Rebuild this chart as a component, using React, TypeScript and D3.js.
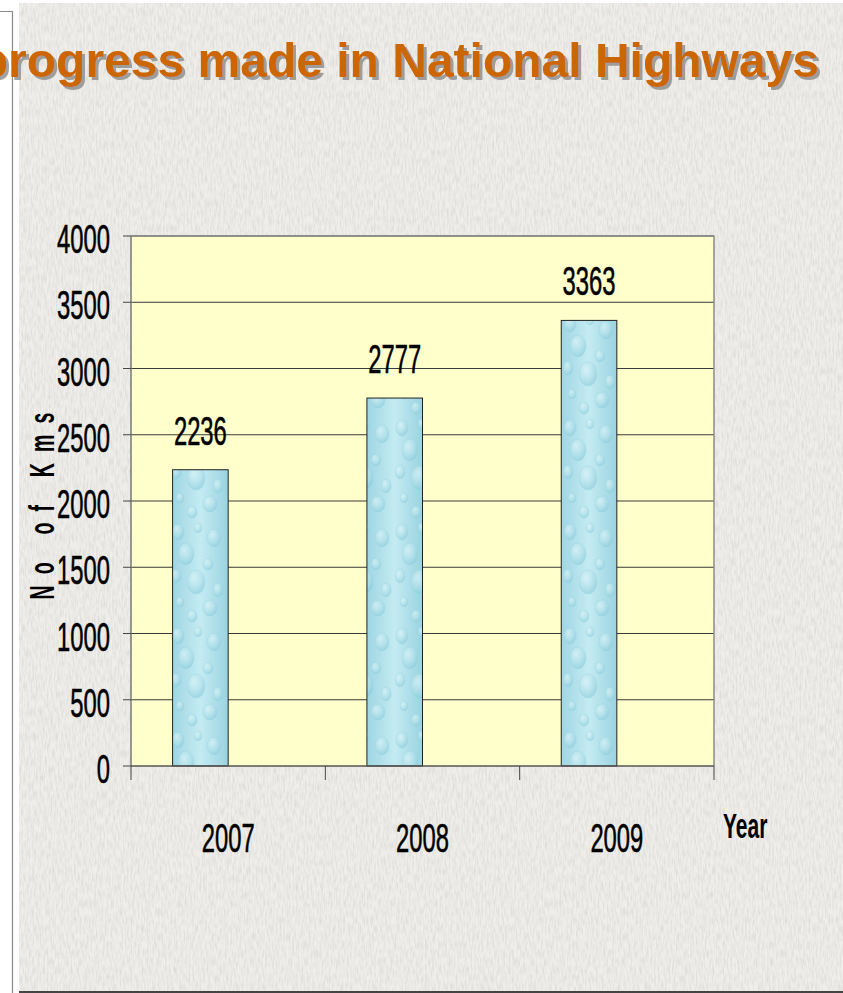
import React from "react";
import { scaleBand, scaleLinear } from "d3";

const years = ["2007", "2008", "2009"];
const kms = [2236, 2777, 3363];
const yTicks = [0, 500, 1000, 1500, 2000, 2500, 3000, 3500, 4000];
const title = "progress made in National Highways";

const W = 843;
const H = 993;
const plot = { left: 131, right: 714, top: 236, bottom: 766 };

// little water drops used to fill the bars
const drops = [
  [10, 12, 6, 8], [30, 8, 4, 5], [46, 18, 7, 9], [18, 34, 8, 11],
  [40, 44, 5, 6], [8, 56, 5, 7], [28, 62, 9, 12], [50, 70, 5, 7],
  [12, 82, 4, 5], [42, 88, 7, 8], [24, 96, 5, 6],
];

function App() {
  const x = scaleBand<string>().domain(years).range([plot.left, plot.right]);
  const y = scaleLinear().domain([0, 4000]).range([plot.bottom, plot.top]);
  const bw = x.bandwidth();
  const barOff = bw * 0.214;
  const barW = bw * 0.286;
  const xTicks = [...years.map((d) => x(d) as number), plot.right];

  // narrow, slightly heavy digits like the original
  const numStyle = { fontSize: 41, fill: "#000", stroke: "#000", strokeWidth: 0.6 };

  return (
    <svg
      width={W}
      height={H}
      style={{ position: "absolute", left: 0, top: 0, display: "block" }}
      fontFamily="Liberation Sans, Arial, sans-serif"
    >
      <defs>
        <filter id="grain" x="0" y="0" width="100%" height="100%">
          <feTurbulence type="fractalNoise" baseFrequency="0.55 0.12" numOctaves={2} seed={3} />
          <feColorMatrix
            type="matrix"
            values="0 0 0 0 0.55  0 0 0 0 0.55  0 0 0 0 0.53  1.4 0 0 0 -0.5"
          />
        </filter>
        <filter id="shadow" x="-5%" y="-20%" width="110%" height="150%">
          <feDropShadow dx={3} dy={3} stdDeviation={0.6} floodColor="#8a8a8a" floodOpacity={0.8} />
        </filter>
        <radialGradient id="drop" cx="0.38" cy="0.32" r="0.7">
          <stop offset="0" stopColor="#e4f7fa" />
          <stop offset="0.6" stopColor="#b0e0ea" />
          <stop offset="1" stopColor="#86c9d9" />
        </radialGradient>
        <linearGradient id="barBase" x1="0" x2="1" y1="0" y2="0">
          <stop offset="0" stopColor="#9fd6e3" />
          <stop offset="0.5" stopColor="#c4ebf2" />
          <stop offset="1" stopColor="#9ad3e1" />
        </linearGradient>
        <pattern id="drops" patternUnits="userSpaceOnUse" width={56} height={104}>
          {drops.map(([cx, cy, rx, ry], i) => (
            <ellipse
              key={i}
              cx={cx}
              cy={cy}
              rx={rx}
              ry={ry}
              fill="url(#drop)"
              stroke="#93cfdc"
              strokeWidth={0.5}
              opacity={0.6}
            />
          ))}
        </pattern>
      </defs>

      {/* slide background */}
      <rect x={0} y={0} width={W} height={H} fill="#ffffff" />
      <rect x={19} y={3} width={W - 19} height={988} fill="#efeeea" />
      <rect x={19} y={3} width={W - 19} height={988} filter="url(#grain)" opacity={0.6} />
      <path d="M0,11.5H12.5V993" fill="none" stroke="#8a8a8a" strokeWidth={1.2} />
      <line x1={19} x2={W} y1={992} y2={992} stroke="#444" strokeWidth={2} />

      {/* title */}
      <text
        x={819}
        y={77}
        textAnchor="end"
        fontSize={48}
        fontWeight="bold"
        fill="#cc6600"
        filter="url(#shadow)"
      >
        {title}
      </text>

      {/* plot area */}
      <rect
        x={plot.left}
        y={plot.top}
        width={plot.right - plot.left}
        height={plot.bottom - plot.top}
        fill="#ffffcc"
      />
      {yTicks.slice(1).map((t) => (
        <line key={t} x1={plot.left} x2={plot.right} y1={y(t)} y2={y(t)} stroke="#3a3a3a" strokeWidth={1} />
      ))}
      <path
        d={`M${plot.left},${plot.top}H${plot.right}V${plot.bottom}`}
        fill="none"
        stroke="#8c8c8c"
        strokeWidth={1.5}
      />

      {/* bars */}
      {years.map((d, i) => (
        <g key={d}>
          <rect x={(x(d) as number) + barOff} y={y(kms[i])} width={barW} height={y(0) - y(kms[i])} fill="url(#barBase)" />
          <rect
            x={(x(d) as number) + barOff}
            y={y(kms[i])}
            width={barW}
            height={y(0) - y(kms[i])}
            fill="url(#drops)"
            stroke="#222"
            strokeWidth={1}
          />
          <text
            transform={`translate(${(x(d) as number) + barOff + barW / 2},${y(kms[i]) - 25}) scale(0.58,1)`}
            textAnchor="middle"
            {...numStyle}
          >
            {kms[i]}
          </text>
        </g>
      ))}

      {/* y axis */}
      <line x1={plot.left} x2={plot.left} y1={plot.top} y2={plot.bottom} stroke="#777" strokeWidth={1.5} />
      {yTicks.map((t) => (
        <g key={t}>
          <line x1={plot.left - 8} x2={plot.left} y1={y(t)} y2={y(t)} stroke="#444" strokeWidth={1} />
          <text transform={`translate(110,${y(t) + 17}) scale(0.58,1)`} textAnchor="end" {...numStyle}>
            {t}
          </text>
        </g>
      ))}
      <text
        transform="translate(54,506) rotate(-90) scale(0.56,1)"
        textAnchor="middle"
        fontSize={35}
        fontWeight="bold"
        textLength={334}
        lengthAdjust="spacing"
        fill="#000"
      >
        No of Kms
      </text>

      {/* x axis */}
      <line x1={plot.left} x2={plot.right} y1={plot.bottom} y2={plot.bottom} stroke="#555" strokeWidth={1.5} />
      {xTicks.map((t, i) => (
        <line key={i} x1={t} x2={t} y1={plot.bottom} y2={plot.bottom + 14} stroke="#444" strokeWidth={1} />
      ))}
      {years.map((d) => (
        <text
          key={d}
          transform={`translate(${(x(d) as number) + bw / 2},852) scale(0.58,1)`}
          textAnchor="middle"
          {...numStyle}
        >
          {d}
        </text>
      ))}
      <text transform="translate(723,838) scale(0.6,1)" fontSize={35} fontWeight="bold" fill="#000">
        Year
      </text>
    </svg>
  );
}

export default App;
